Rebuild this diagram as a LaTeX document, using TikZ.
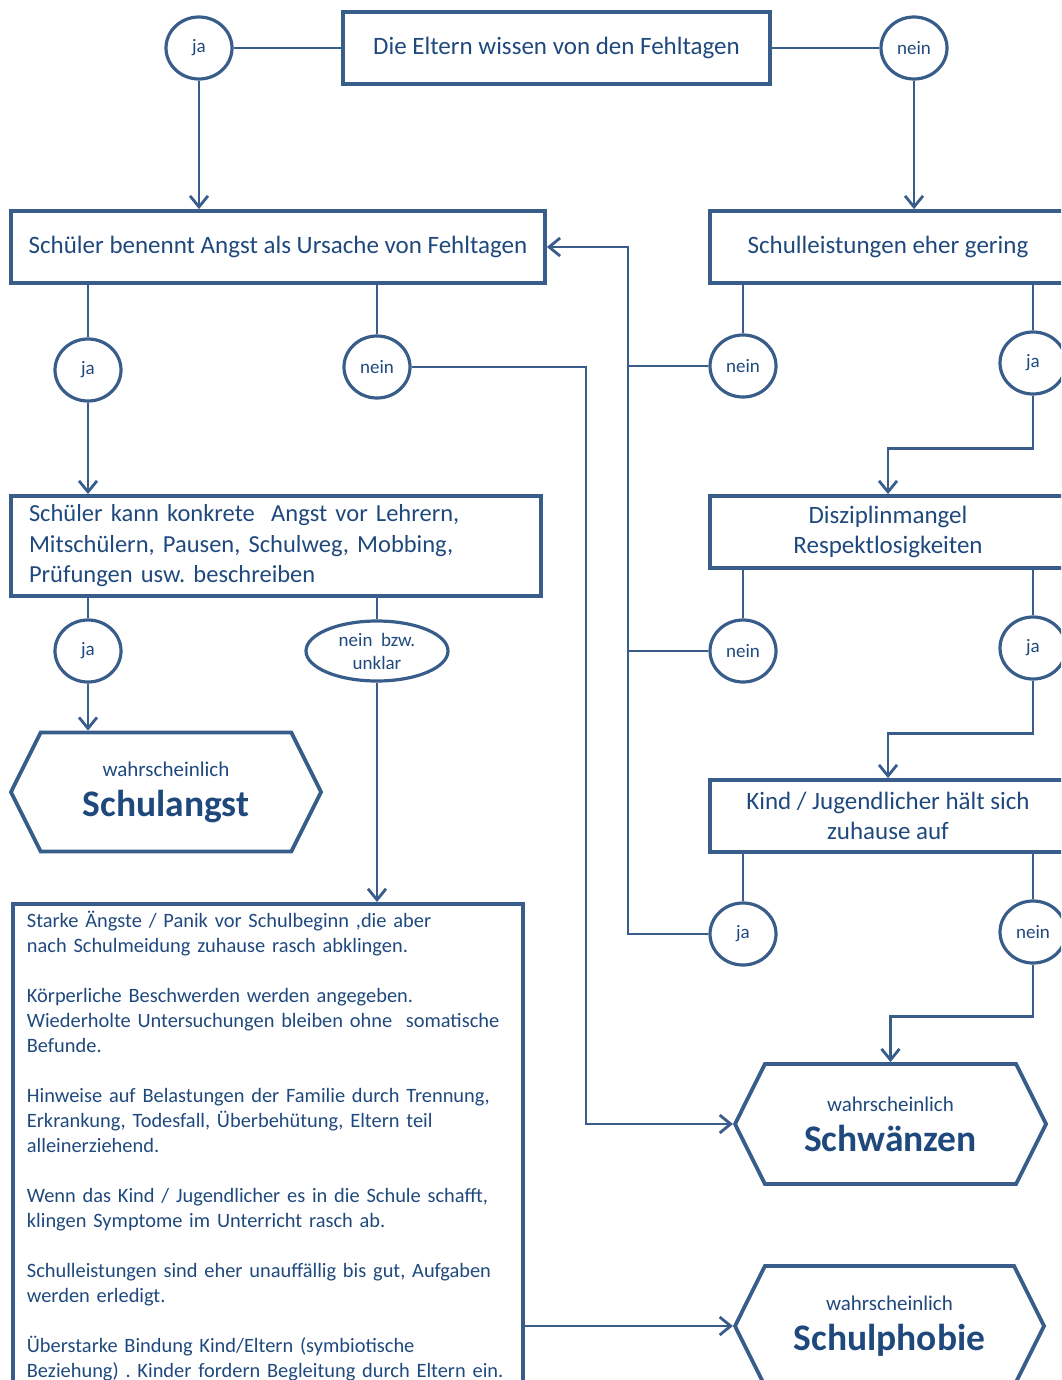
\documentclass[tikz,border=0pt]{standalone}
\usepackage{fontspec}
\setmainfont{Carlito}
\frenchspacing
\usetikzlibrary{shapes.geometric, shapes.symbols, arrows.meta}

\begin{document}
\begin{tikzpicture}[x=1pt, y=-1pt, >={Straight Barb[length=11pt, width=18pt]},
    kasten/.style={draw=linie, line width=3.8pt, text=schrift, minimum height=72pt, inner sep=0pt, align=center, font=\fontsize{25}{30}\selectfont},
    antwort/.style={ellipse, draw=linie, line width=3.2pt, text=schrift, minimum width=66pt, minimum height=62pt, inner sep=0pt, align=center, font=\fontsize{19}{23}\selectfont},
    ergebnis/.style={signal, signal to=east and west, signal pointer angle=127, draw=linie, line width=3.8pt, text=schrift, minimum width=311pt, minimum height=120pt, inner sep=0pt, align=center, font=\fontsize{21}{40}\selectfont},
    pfeil/.style={draw=linie, line width=2.8pt}]
    % --- Farben ---
    \definecolor{linie}{HTML}{385D8A}
    \definecolor{schrift}{HTML}{1F497D}

    \clip (0,0) rectangle (1061,1380);

    % --- Fragen ---
    \node[kasten, minimum width=427pt] (eltern) at (556.5,48) {Die Eltern wissen von den Fehltagen};
    \node[kasten, minimum width=534pt] (angst) at (278,247) {Schüler benennt Angst als Ursache von Fehltagen};
    \node[kasten, minimum width=356pt] (leist) at (888,247) {Schulleistungen eher gering};
    \node[kasten, minimum width=530pt, minimum height=100pt, text width=494pt, inner xsep=18pt, align=left, font=\fontsize{24.5}{30.5}\selectfont] (konkret) at (276,546)
        {Schüler kann konkrete\ \ Angst vor Lehrern,\\Mitschülern, Pausen, Schulweg, Mobbing,\\Prüfungen usw. beschreiben};
    \node[kasten, minimum width=356pt] (diszi) at (888,532) {Disziplinmangel\\Respektlosigkeiten};
    \node[kasten, minimum width=356pt] (kind) at (888,816) {Kind / Jugendlicher hält sich\\zuhause auf};

    % --- Antworten ---
    \node[antwort] (ja0) at (199,48) {ja};
    \node[antwort] (nein0) at (914,48) {nein};
    \node[antwort] (ja1) at (88,370) {ja};
    \node[antwort] (nein1) at (377,367) {nein};
    \node[antwort] (nein2) at (743,366) {nein};
    \node[antwort] (ja2) at (1033,363) {ja};
    \node[antwort] (ja3) at (88,651) {ja};
    \node[antwort, minimum width=142pt, minimum height=60pt] (unklar) at (377,651) {nein\ \ bzw.\\unklar};
    \node[antwort] (nein3) at (743,651) {nein};
    \node[antwort] (ja4) at (1033,648) {ja};
    \node[antwort] (ja5) at (743,934) {ja};
    \node[antwort] (nein5) at (1033,932) {nein};

    % --- Ergebnisse ---
    \node[ergebnis, minimum width=310pt, minimum height=119pt] (schulangst) at (166,792)
        {wahrscheinlich\\{\bfseries\fontsize{37.5}{40}\selectfont Schulangst}};
    \node[ergebnis] (schwaenzen) at (890.5,1124)
        {wahrscheinlich\\{\bfseries\fontsize{37.5}{40}\selectfont Schwänzen}};
    \node[ergebnis, minimum width=309pt] (phobie) at (889.5,1326)
        {wahrscheinlich\\{\bfseries\fontsize{37.5}{40}\selectfont Schulphobie}};

    % --- Merkmale ---
    \node[draw=linie, line width=3.8pt, text=schrift, anchor=north west, text width=482pt, inner xsep=14pt, inner ysep=7pt, align=left, font=\fontsize{20.4}{25}\selectfont] (symptome) at (11,902)
        {Starke Ängste / Panik vor Schulbeginn ,die aber\\nach Schulmeidung zuhause rasch abklingen.\\[25pt]
         Körperliche Beschwerden werden angegeben.\\Wiederholte Untersuchungen bleiben ohne\ \ somatische\\Befunde.\\[25pt]
         Hinweise auf Belastungen der Familie durch Trennung,\\Erkrankung, Todesfall, Überbehütung, Eltern teil\\alleinerziehend.\\[25pt]
         Wenn das Kind / Jugendlicher es in die Schule schafft,\\klingen Symptome im Unterricht rasch ab.\\[25pt]
         Schulleistungen sind eher unauffällig bis gut, Aufgaben\\werden erledigt.\\[25pt]
         Überstarke Bindung Kind/Eltern (symbiotische\\Beziehung) . Kinder fordern Begleitung durch Eltern ein.\\[25pt]
         \mbox{}};

    % --- Verbindungen ---
    \coordinate (knick) at (586,0);
    \coordinate (bus) at (628,0);

    \draw[pfeil] (ja0) -- (eltern);
    \draw[pfeil] (eltern) -- (nein0);
    \draw[pfeil, ->] (ja0) -- (ja0 |- angst.north);
    \draw[pfeil, ->] (nein0) -- (nein0 |- leist.north);

    \draw[pfeil] (angst.south -| ja1) -- (ja1);
    \draw[pfeil, ->] (ja1) -- (ja1 |- konkret.north);
    \draw[pfeil] (angst.south -| nein1) -- (nein1);
    \draw[pfeil, ->] (nein1) -- (nein1 -| knick) -- (knick |- schwaenzen.west) -- (schwaenzen.west);

    \draw[pfeil] (leist.south -| nein2) -- (nein2);
    \draw[pfeil] (leist.south -| ja2) -- (ja2);
    \draw[pfeil, ->] (ja2) |- ([yshift=46pt]diszi.north) -- (diszi.north);

    \draw[pfeil] (diszi.south -| nein3) -- (nein3);
    \draw[pfeil] (diszi.south -| ja4) -- (ja4);
    \draw[pfeil, ->] (ja4) |- ([yshift=45pt]kind.north) -- (kind.north);

    \draw[pfeil] (kind.south -| ja5) -- (ja5);
    \draw[pfeil] (kind.south -| nein5) -- (nein5);
    \draw[pfeil, ->] (nein5) |- ([yshift=46pt]schwaenzen.north) -- (schwaenzen.north);

    % Sammelleitung zurueck
    \draw[pfeil, ->] (ja5) -- (ja5 -| bus) -- (bus |- angst.east) -- (angst.east);
    \draw[pfeil] (nein2) -- (nein2 -| bus);
    \draw[pfeil] (nein3) -- (nein3 -| bus);

    \draw[pfeil] (konkret.south -| ja3) -- (ja3);
    \draw[pfeil, ->] (ja3) -- (ja3 |- schulangst.north);
    \draw[pfeil] (konkret.south -| unklar) -- (unklar);
    \draw[pfeil, ->] (unklar) -- (unklar |- symptome.north);
    \draw[pfeil, ->] (phobie.west -| symptome.east) -- (phobie.west);
\end{tikzpicture}
\end{document}
